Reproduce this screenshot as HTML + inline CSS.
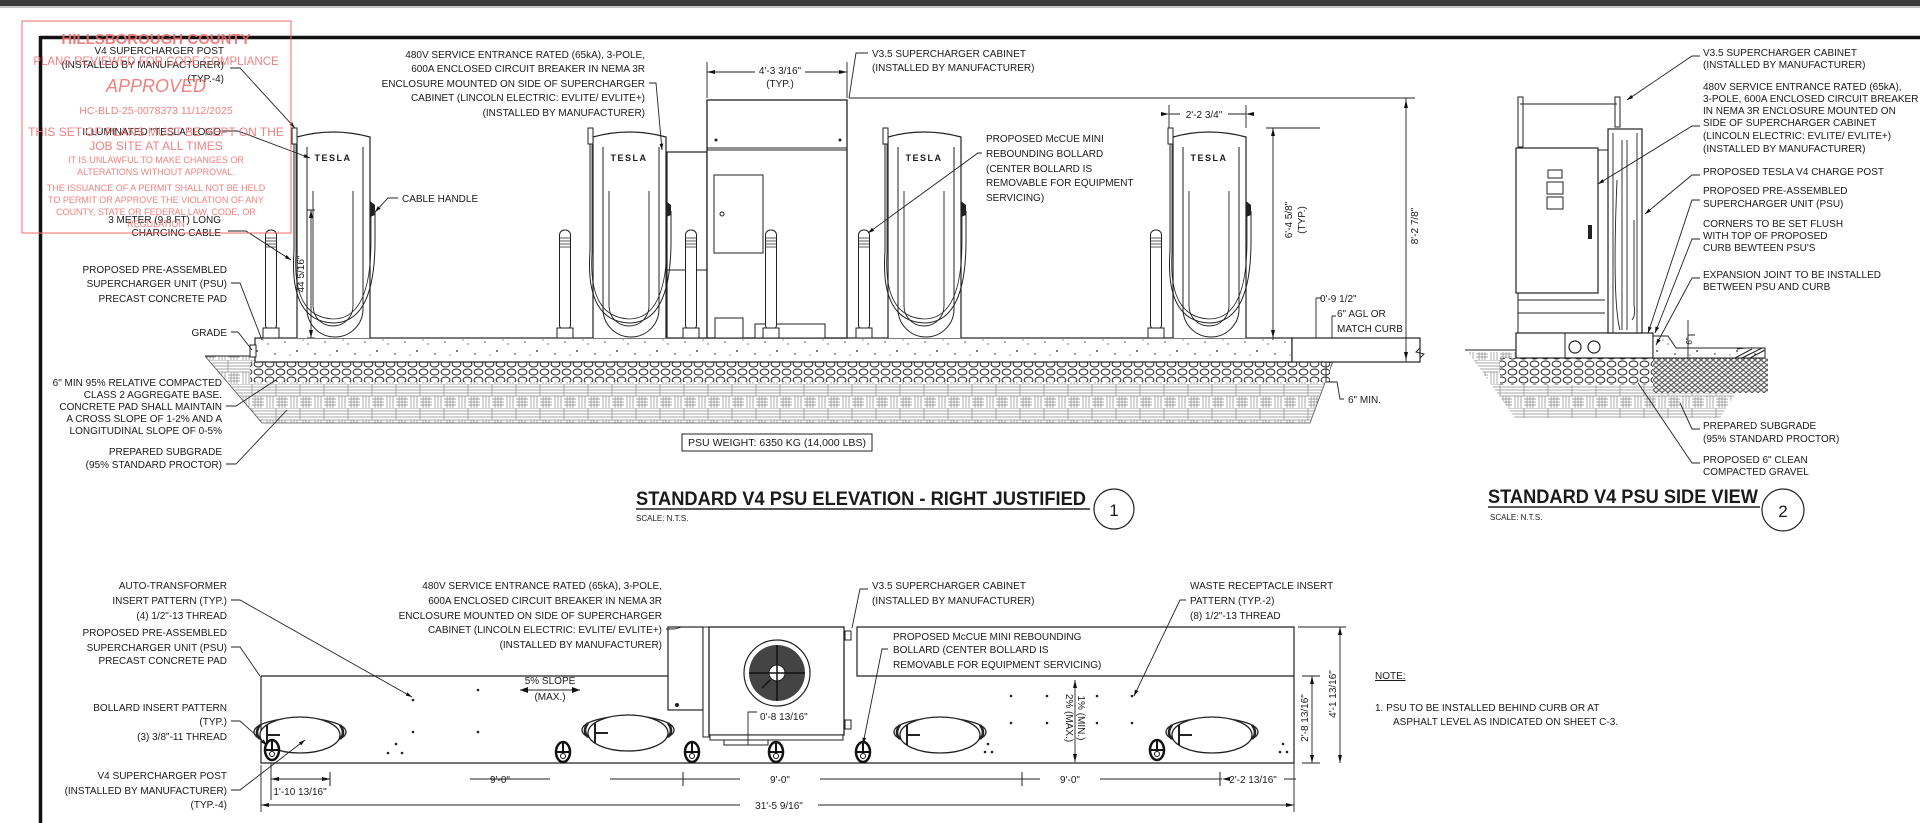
<!DOCTYPE html>
<html><head><meta charset="utf-8"><style>
html,body{margin:0;padding:0;background:#fff;width:1920px;height:823px;overflow:hidden}
svg{display:block}
text{font-family:"Liberation Sans",sans-serif;fill:#1a1a1a}
.t{font-size:10px}
.st{font-size:10px}
.r{text-anchor:end}
.m{text-anchor:middle}
.ttl{font-size:19px;font-weight:bold}
.red{fill:#ef6b6b;text-anchor:middle}
</style></head><body>
<svg width="1920" height="823" viewBox="0 0 1920 823" xmlns="http://www.w3.org/2000/svg">
<defs>
<pattern id="bw" width="24" height="24" patternUnits="userSpaceOnUse">
<rect width="24" height="24" fill="#fff"/>
<g stroke="#8a8a8a" stroke-width="0.7" fill="none">
<path d="M0,3H12M0,6H12M0,9H12M15,12V24M18,12V24M21,12V24M3,12V24M6,12V24M9,12V24M12,3H24M12,6H24M12,9H24M0,12H24M0,0H24M12,0V12"/>
<path d="M12,15H24M12,18H24M12,21H24"/>
</g></pattern>
<pattern id="gv" width="11" height="8" patternUnits="userSpaceOnUse">
<rect width="11" height="8" fill="#fff"/>
<ellipse cx="5.5" cy="4" rx="4.4" ry="3" fill="none" stroke="#222" stroke-width="1"/>
</pattern>
<pattern id="gv2" width="6" height="5" patternUnits="userSpaceOnUse">
<rect width="6" height="5" fill="#fff"/>
<ellipse cx="3" cy="2.5" rx="2.4" ry="1.8" fill="none" stroke="#222" stroke-width="0.9"/>
</pattern>
<pattern id="sp" width="40" height="24" patternUnits="userSpaceOnUse">
<rect width="40" height="24" fill="#fff"/>
<g fill="#555"><circle cx="5" cy="6" r="0.8"/><circle cx="17" cy="15" r="1"/><circle cx="28" cy="8" r="0.7"/><circle cx="35" cy="18" r="0.9"/><circle cx="10" cy="19" r="0.6"/><circle cx="23" cy="4" r="0.6"/></g>
</pattern>
<marker id="ar" viewBox="0 0 10 10" refX="10" refY="5" markerWidth="7" markerHeight="7" orient="auto-start-reverse"><path d="M0,2L10,5L0,8z" fill="#111"/></marker>
<g id="post">
<path d="M0,207V6Q36,-4 73,6V207" fill="#fff" stroke="#222" stroke-width="1.2"/>
<path d="M10,16V178A26,26 0 0 0 66,178V16" fill="none" stroke="#222" stroke-width="1"/>
<path d="M16,60V175A20,20 0 0 0 56,175V60" fill="none" stroke="#222" stroke-width="0.9"/>
<text x="36" y="30" class="m" style="font-size:9px;font-weight:bold;letter-spacing:1.5px">TESLA</text>
<rect x="-5" y="-3" width="5" height="16" fill="#fff" stroke="#222"/>
<path d="M-3,13V120Q-8,190 36,192Q78,192 78,110V80" fill="none" stroke="#222" stroke-width="1"/>
<path d="M-1,13V122Q-5,186 36,188Q74,188 74,110V80" fill="none" stroke="#222" stroke-width="0.8"/>
<path d="M73,70l5,4v10l-5,2z" fill="#222"/>
</g>
<g id="bol">
<rect x="-5.5" y="0" width="11" height="100" rx="5" fill="#fff" stroke="#222"/>
<path d="M-5,8H5M-5,11H5M-5,14H5M-5,17H5" stroke="#222" stroke-width="0.8"/>
<rect x="-8" y="98" width="16" height="10" fill="#fff" stroke="#222"/>
</g>
<g id="oval">
<path d="M-40,-10Q-46,-2 -40,4M40,-10Q46,-2 40,4" fill="none" stroke="#222" stroke-width="2.5"/>
<ellipse cx="0" cy="-3" rx="46" ry="14" fill="none" stroke="#222" stroke-width="1.3"/>
<ellipse cx="0" cy="0" rx="40" ry="18" fill="#fff" stroke="#222" stroke-width="1.3"/>
<path d="M-33,-10V10M-33,0H-20" stroke="#222" stroke-width="2"/>
</g>
<g id="pb">
<ellipse cx="0" cy="0" rx="7" ry="10" fill="#fff" stroke="#111" stroke-width="2.5"/>
<path d="M-6,0H6M0,0V-9" stroke="#111" stroke-width="2"/>
<circle cx="0" cy="4" r="2.5" fill="#fff" stroke="#111"/>
</g>
</defs>

<rect x="0" y="0" width="1920" height="6" fill="#3d3d3d"/>
<rect x="0" y="6" width="1920" height="2" fill="#c8c8c8"/>
<path d="M40,37.5H1920M40.5,36V823" stroke="#111" stroke-width="3.5"/>

<polygon points="205,356 1335,356 1310,423 262,423" fill="url(#bw)"/>
<path d="M205,356L262,423H1310L1335,356" fill="none" stroke="#555" stroke-width="0.8"/>
<path d="M205,356H255" stroke="#222"/>
<rect x="250" y="362" width="1080" height="20" fill="url(#gv)"/>
<rect x="255" y="338" width="1037" height="24" fill="url(#sp)" stroke="#222" stroke-width="1.2"/>
<rect x="250" y="345" width="6" height="12" fill="#fff" stroke="#222"/>
<rect x="1292" y="338" width="128" height="24" fill="#fff" stroke="#222" stroke-width="1.2"/>
<path d="M1420,348l-4,4l8,2l-4,4" fill="none" stroke="#222"/>

<rect x="667" y="152" width="40" height="186" fill="#fff" stroke="#222" stroke-width="1.2"/>
<rect x="707" y="100" width="140" height="238" fill="#fff" stroke="#222" stroke-width="1.3"/>
<path d="M707,148H847M707,150H847" stroke="#222"/>
<circle cx="716" cy="140" r="1.5" fill="#222"/><circle cx="840" cy="140" r="1.5" fill="#222"/>
<rect x="714" y="175" width="49" height="78" fill="#fff" stroke="#222"/>
<circle cx="722" cy="214" r="2" fill="none" stroke="#222"/>
<rect x="715" y="318" width="28" height="20" fill="#fff" stroke="#222"/>
<rect x="755" y="324" width="70" height="14" fill="#fff" stroke="#222"/>
<path d="M667,270H707" stroke="#222"/>

<use href="#post" x="297" y="131"/>
<use href="#post" x="593" y="131"/>
<use href="#post" x="888" y="131"/>
<use href="#post" x="1173" y="131"/>
<use href="#bol" x="271" y="230"/>
<use href="#bol" x="565" y="230"/>
<use href="#bol" x="691" y="230"/>
<use href="#bol" x="771" y="230"/>
<use href="#bol" x="864" y="230"/>
<use href="#bol" x="1156" y="230"/>

<g stroke="#222" stroke-width="0.9" fill="none">
<path d="M230,68H240L295,128" marker-end="url(#ar)"/>
<path d="M222,131H238L310,158" marker-end="url(#ar)"/>
<path d="M228,231H246L291,260" marker-end="url(#ar)"/>
<path d="M398,198H388L375,212" marker-end="url(#ar)"/>
<path d="M231,283H240L262,340"/>
<path d="M231,332H238L252,350"/>
<path d="M226,406H236L276,380"/>
<path d="M226,464H236L287,410"/>
<path d="M649,83H656L662,150" marker-end="url(#ar)"/>
<path d="M868,53H856L849,98"/>
<path d="M982,153H978L868,233" marker-end="url(#ar)"/>
<path d="M311,210V338M307,210H315M307,338H315"/>
<path d="M707,72H755M805,72H847M707,62V98M847,62V98" />
<path d="M1169,114H1180M1228,114H1246M1169,105V128M1246,105V128"/>
<path d="M1273,128V340M1266,128H1320"/>
<path d="M849,98H1415M1406,98V362M1420,362H1398"/>
<path d="M1316,298V338M1316,298H1322M1332,316V338M1332,316H1336"/>
<path d="M1326,362V382M1326,382H1337L1340,399H1344"/>
</g>
<g fill="#111">
<path d="M707,72l8,-2v4z M847,72l-8,-2v4z M1169,114l-8,-2v4z M1246,114l8,-2v4z M311,210l-2,8h4z M311,338l-2,-8h4z M1273,128l-2,8h4z M1273,338l-2,-8h4z M1406,100l-2,8h4z M1406,360l-2,-8h4z"/>
</g>

<g class="st">
<text x="224" y="54" class="r">V4 SUPERCHARGER POST</text>
<text x="224" y="68" class="r">(INSTALLED BY MANUFACTURER)</text>
<text x="224" y="82" class="r">(TYP.-4)</text>
<text x="221" y="135" class="r">ILLUMINATED "TESLA" LOGO</text>
<text x="221" y="223" class="r">3 METER (9.8 FT) LONG</text>
<text x="221" y="236" class="r">CHARGING CABLE</text>
<text x="402" y="202">CABLE HANDLE</text>
<text x="227" y="273" class="r">PROPOSED PRE-ASSEMBLED</text>
<text x="227" y="287" class="r">SUPERCHARGER UNIT (PSU)</text>
<text x="227" y="302" class="r">PRECAST CONCRETE PAD</text>
<text x="227" y="336" class="r">GRADE</text>
<text x="222" y="386" class="r">6" MIN 95% RELATIVE COMPACTED</text>
<text x="222" y="398" class="r">CLASS 2 AGGREGATE BASE.</text>
<text x="222" y="410" class="r">CONCRETE PAD SHALL MAINTAIN</text>
<text x="222" y="422" class="r">A CROSS SLOPE OF 1-2% AND A</text>
<text x="222" y="434" class="r">LONGITUDINAL SLOPE OF 0-5%</text>
<text x="222" y="455" class="r">PREPARED SUBGRADE</text>
<text x="222" y="468" class="r">(95% STANDARD PROCTOR)</text>
<text x="645" y="58" class="r">480V SERVICE ENTRANCE RATED (65kA), 3-POLE,</text>
<text x="645" y="72" class="r">600A ENCLOSED CIRCUIT BREAKER IN NEMA 3R</text>
<text x="645" y="87" class="r">ENCLOSURE MOUNTED ON SIDE OF SUPERCHARGER</text>
<text x="645" y="101" class="r">CABINET (LINCOLN ELECTRIC: EVLITE/ EVLITE+)</text>
<text x="645" y="116" class="r">(INSTALLED BY MANUFACTURER)</text>
<text x="872" y="57">V3.5 SUPERCHARGER CABINET</text>
<text x="872" y="71">(INSTALLED BY MANUFACTURER)</text>
<text x="780" y="74" class="m">4'-3 3/16"</text>
<text x="780" y="87" class="m">(TYP.)</text>
<text x="986" y="142">PROPOSED McCUE MINI</text>
<text x="986" y="157">REBOUNDING BOLLARD</text>
<text x="986" y="172">(CENTER BOLLARD IS</text>
<text x="986" y="186">REMOVABLE FOR EQUIPMENT</text>
<text x="986" y="201">SERVICING)</text>
<text x="1204" y="118" class="m">2'-2 3/4"</text>
<text x="1320" y="302">0'-9 1/2"</text>
<text x="1337" y="317">6" AGL OR</text>
<text x="1337" y="332">MATCH CURB</text>
<text x="1348" y="403">6" MIN.</text>
<text transform="translate(304,274) rotate(-90)" class="m">44 5/16"</text>
<text transform="translate(1292,220) rotate(-90)" class="m">6'-4 5/8"</text>
<text transform="translate(1305,220) rotate(-90)" class="m">(TYP.)</text>
<text transform="translate(1418,226) rotate(-90)" class="m">8'-2 7/8"</text>
</g>
<rect x="682" y="434" width="190" height="17" fill="#fff" stroke="#222"/>
<text x="777" y="446" class="t m" textLength="178" lengthAdjust="spacingAndGlyphs">PSU WEIGHT: 6350 KG (14,000 LBS)</text>

<text x="636" y="505" class="ttl" textLength="450" lengthAdjust="spacingAndGlyphs">STANDARD V4 PSU ELEVATION - RIGHT JUSTIFIED</text>
<path d="M636,509H1090" stroke="#222" stroke-width="1.5"/>
<text x="636" y="521" style="font-size:8px">SCALE:  N.T.S.</text>
<circle cx="1114" cy="509" r="20" fill="#fff" stroke="#222" stroke-width="1.2"/>
<text x="1114" y="516" class="m" style="font-size:17px">1</text>

<polygon points="1468,352 1762,352 1720,418 1515,418" fill="url(#bw)"/>
<path d="M1465,350H1516" stroke="#222"/>
<rect x="1500" y="358" width="153" height="27" fill="url(#gv)"/>
<rect x="1653" y="358" width="115" height="35" fill="url(#gv2)"/>
<rect x="1516" y="333" width="137" height="25" fill="#fff" stroke="#222" stroke-width="1.2"/>
<path d="M1565,333V358" stroke="#222"/>
<circle cx="1575" cy="347" r="6" fill="none" stroke="#222" stroke-width="1.2"/>
<circle cx="1594" cy="347" r="6" fill="none" stroke="#222" stroke-width="1.2"/>
<path d="M1653,358V336L1668,336L1676,348H1765V358Z" fill="url(#sp)" stroke="#222"/>
<path d="M1737,349l8,-1M1742,358l20,-10M1750,358l15,-8M1735,358l17,-9" stroke="#222"/>
<rect x="1518" y="97" width="5" height="50" fill="#fff" stroke="#222"/>
<rect x="1615" y="97" width="5" height="30" fill="#fff" stroke="#222"/>
<path d="M1520,104H1617M1516,150H1615" stroke="#222"/>
<rect x="1516" y="148" width="82" height="145" fill="#fff" stroke="#222" stroke-width="1.2"/>
<rect x="1548" y="170" width="14" height="8" fill="none" stroke="#222"/>
<rect x="1547" y="182" width="16" height="12" fill="none" stroke="#222"/>
<rect x="1547" y="197" width="16" height="12" fill="none" stroke="#222"/>
<rect x="1588" y="225" width="4" height="14" fill="#222"/>
<path d="M1518,293V333M1518,300H1605M1518,313H1605" stroke="#222" fill="none"/>
<rect x="1608" y="129" width="34" height="204" fill="#fff" stroke="#222" stroke-width="1.2"/>
<path d="M1613,133V333M1637,133V333M1622,140V330M1627,140V330M1617,180Q1612,300 1620,330M1634,220V305Q1636,315 1632,320" stroke="#222" fill="none" stroke-width="0.9"/>
<g stroke="#222" stroke-width="0.9" fill="none">
<path d="M1700,56H1692L1627,100" marker-end="url(#ar)"/>
<path d="M1700,126H1692L1598,184" marker-end="url(#ar)"/>
<path d="M1700,175H1692L1645,214" marker-end="url(#ar)"/>
<path d="M1700,200H1692L1648,333" marker-end="url(#ar)"/>
<path d="M1700,239H1692L1655,333" marker-end="url(#ar)"/>
<path d="M1700,278H1692L1656,345" marker-end="url(#ar)"/>
<path d="M1700,429H1692L1680,403"/>
<path d="M1700,463H1692L1638,383"/>
<path d="M1688,335H1695M1688,348V320M1688,348V358"/>
</g>
<text transform="translate(1692,341) rotate(-90)" class="m" style="font-size:8px">6"</text>
<g class="st">
<text x="1703" y="56">V3.5 SUPERCHARGER CABINET</text>
<text x="1703" y="68">(INSTALLED BY MANUFACTURER)</text>
<text x="1703" y="90">480V SERVICE ENTRANCE RATED (65kA),</text>
<text x="1703" y="102">3-POLE, 600A ENCLOSED CIRCUIT BREAKER</text>
<text x="1703" y="114">IN NEMA 3R ENCLOSURE MOUNTED ON</text>
<text x="1703" y="126">SIDE OF SUPERCHARGER CABINET</text>
<text x="1703" y="139">(LINCOLN ELECTRIC: EVLITE/ EVLITE+)</text>
<text x="1703" y="152">(INSTALLED BY MANUFACTURER)</text>
<text x="1703" y="175">PROPOSED TESLA V4 CHARGE POST</text>
<text x="1703" y="194">PROPOSED PRE-ASSEMBLED</text>
<text x="1703" y="207">SUPERCHARGER UNIT (PSU)</text>
<text x="1703" y="227">CORNERS TO BE SET FLUSH</text>
<text x="1703" y="239">WITH TOP OF PROPOSED</text>
<text x="1703" y="251">CURB BEWTEEN PSU'S</text>
<text x="1703" y="278">EXPANSION JOINT TO BE INSTALLED</text>
<text x="1703" y="290">BETWEEN PSU AND CURB</text>
<text x="1703" y="429">PREPARED SUBGRADE</text>
<text x="1703" y="442">(95% STANDARD PROCTOR)</text>
<text x="1703" y="463">PROPOSED 6" CLEAN</text>
<text x="1703" y="475">COMPACTED GRAVEL</text>
</g>
<text x="1488" y="503" class="ttl" textLength="270" lengthAdjust="spacingAndGlyphs">STANDARD V4 PSU SIDE VIEW</text>
<path d="M1488,507H1760" stroke="#222" stroke-width="1.5"/>
<text x="1490" y="520" style="font-size:8px">SCALE:  N.T.S.</text>
<circle cx="1783" cy="510" r="21" fill="#fff" stroke="#222" stroke-width="1.2"/>
<text x="1783" y="517" class="m" style="font-size:17px">2</text>

<g stroke="#222" stroke-width="1.2" fill="none">
<path d="M261,676H668M261,676V763H1294V627H857V676H1294"/>
</g>
<rect x="668" y="627" width="35" height="83" fill="#fff" stroke="#222" stroke-width="1.2"/>
<circle cx="677" cy="705" r="2" fill="#222"/>
<rect x="703" y="627" width="6" height="110" fill="#fff" stroke="#222"/>
<rect x="709" y="627" width="135" height="108" fill="#fff" stroke="#222" stroke-width="1.3"/>
<rect x="710" y="735" width="133" height="5" fill="#fff" stroke="#222"/>
<rect x="724" y="740" width="44" height="5" fill="#fff" stroke="#222"/>
<rect x="845" y="631" width="6" height="9" fill="#fff" stroke="#222"/>
<rect x="845" y="720" width="6" height="9" fill="#fff" stroke="#222"/>
<circle cx="777" cy="673" r="33" fill="#fff" stroke="#222" stroke-width="1.2"/>
<circle cx="777" cy="673" r="28" fill="#444"/>
<circle cx="777" cy="673" r="8" fill="#fff" stroke="#222"/>
<path d="M749,673H805M777,645V701M770,680L762,688" stroke="#111" stroke-width="1.5"/>

<use href="#oval" x="300" y="735"/>
<use href="#oval" x="628" y="733"/>
<use href="#oval" x="940" y="735"/>
<use href="#oval" x="1212" y="735"/>
<use href="#pb" x="272" y="750"/>
<use href="#pb" x="563" y="752"/>
<use href="#pb" x="692" y="752"/>
<use href="#pb" x="776" y="752"/>
<use href="#pb" x="863" y="752"/>
<use href="#pb" x="1157" y="750"/>
<g fill="#222">
<circle cx="413" cy="700" r="1.3"/><circle cx="478" cy="690" r="1.3"/><circle cx="413" cy="732" r="1.3"/><circle cx="478" cy="732" r="1.3"/><circle cx="396" cy="744" r="1.3"/><circle cx="388" cy="753" r="1.3"/><circle cx="402" cy="753" r="1.3"/>
<circle cx="1011" cy="696" r="1.3"/><circle cx="1047" cy="696" r="1.3"/><circle cx="1097" cy="696" r="1.3"/><circle cx="1132" cy="696" r="1.3"/><circle cx="1011" cy="723" r="1.3"/><circle cx="1047" cy="723" r="1.3"/><circle cx="1097" cy="723" r="1.3"/><circle cx="1132" cy="723" r="1.3"/>
<circle cx="988" cy="744" r="1.3"/><circle cx="985" cy="752" r="1.3"/><circle cx="992" cy="752" r="1.3"/><circle cx="1283" cy="744" r="1.3"/><circle cx="1280" cy="752" r="1.3"/><circle cx="1287" cy="752" r="1.3"/>
</g>
<g stroke="#222" stroke-width="0.9" fill="none">
<path d="M231,600H240L412,697" marker-end="url(#ar)"/>
<path d="M231,647H240L260,676"/>
<path d="M231,721H240L267,745" marker-end="url(#ar)"/>
<path d="M231,790H240L305,740" marker-end="url(#ar)"/>
<path d="M666,629H674L682,627"/>
<path d="M868,589H860L852,628"/>
<path d="M888,649H882L863,744" marker-end="url(#ar)"/>
<path d="M1186,600H1180L1134,696" marker-end="url(#ar)"/>
<path d="M757,712H748V745"/>
<path d="M271,763V800M271,779H330M470,779H550M610,779H740M820,779H1040M1100,779H1222M1284,779H1296M1294,763V812"/>
<path d="M261,805H740M818,805H1294M261,765V812"/>
<path d="M1312,676V763M1302,676H1320M1302,763H1320M1340,627V763M1298,627H1346"/>
<path d="M520,690H580"/>
<path d="M1075,680V762"/>
</g>
<g fill="#111">
<path d="M520,690l8,-3v6z M580,690l-8,-3v6z M271,779l8,-2v4z M261,805l8,-2v4z M1294,805l-8,-2v4z M1312,676l-2,8h4z M1312,763l-2,-8h4z M1340,627l-2,8h4z M1340,763l-2,-8h4z M1075,680l-2,8h4z M1075,762l-2,-8h4z M330,779l-8,-2v4z M1222,779l8,-2v4z"/>
</g>
<path d="M330,772V786M683,772V786M1022,772V786M1220,772V786" stroke="#222"/>

<g class="st">
<text x="227" y="589" class="r">AUTO-TRANSFORMER</text>
<text x="227" y="604" class="r">INSERT PATTERN (TYP.)</text>
<text x="227" y="619" class="r">(4) 1/2"-13 THREAD</text>
<text x="227" y="636" class="r">PROPOSED PRE-ASSEMBLED</text>
<text x="227" y="651" class="r">SUPERCHARGER UNIT (PSU)</text>
<text x="227" y="664" class="r">PRECAST CONCRETE PAD</text>
<text x="227" y="711" class="r">BOLLARD INSERT PATTERN</text>
<text x="227" y="725" class="r">(TYP.)</text>
<text x="227" y="740" class="r">(3) 3/8"-11 THREAD</text>
<text x="227" y="779" class="r">V4 SUPERCHARGER POST</text>
<text x="227" y="794" class="r">(INSTALLED BY MANUFACTURER)</text>
<text x="227" y="808" class="r">(TYP.-4)</text>
<text x="662" y="589" class="r">480V SERVICE ENTRANCE RATED (65kA), 3-POLE,</text>
<text x="662" y="604" class="r">600A ENCLOSED CIRCUIT BREAKER IN NEMA 3R</text>
<text x="662" y="619" class="r">ENCLOSURE MOUNTED ON SIDE OF SUPERCHARGER</text>
<text x="662" y="633" class="r">CABINET (LINCOLN ELECTRIC: EVLITE/ EVLITE+)</text>
<text x="662" y="648" class="r">(INSTALLED BY MANUFACTURER)</text>
<text x="872" y="589">V3.5 SUPERCHARGER CABINET</text>
<text x="872" y="604">(INSTALLED BY MANUFACTURER)</text>
<text x="893" y="640">PROPOSED McCUE MINI REBOUNDING</text>
<text x="893" y="653">BOLLARD (CENTER BOLLARD IS</text>
<text x="893" y="668">REMOVABLE FOR EQUIPMENT SERVICING)</text>
<text x="1190" y="589">WASTE RECEPTACLE INSERT</text>
<text x="1190" y="604">PATTERN (TYP.-2)</text>
<text x="1190" y="619">(8) 1/2"-13 THREAD</text>
<text x="550" y="684" class="m">5% SLOPE</text>
<text x="550" y="700" class="m">(MAX.)</text>
<text x="760" y="720">0'-8 13/16"</text>
<text x="300" y="795" class="m">1'-10 13/16"</text>
<text x="500" y="783" class="m">9'-0"</text>
<text x="780" y="783" class="m">9'-0"</text>
<text x="1070" y="783" class="m">9'-0"</text>
<text x="1253" y="783" class="m">2'-2 13/16"</text>
<text x="779" y="809" class="m">31'-5 9/16"</text>
<text transform="translate(1078,718) rotate(90)" class="m">1% (MIN.)</text>
<text transform="translate(1066,718) rotate(90)" class="m">2% (MAX.)</text>
<text transform="translate(1308,718) rotate(-90)" class="m">2'-8 13/16"</text>
<text transform="translate(1336,694) rotate(-90)" class="m">4'-1 13/16"</text>
<text x="1375" y="679" style="font-size:10px;text-decoration:underline">NOTE:</text>
<text x="1375" y="711">1.  PSU TO BE INSTALLED BEHIND CURB OR AT</text>
<text x="1393" y="725">ASPHALT LEVEL AS INDICATED ON SHEET C-3.</text>
</g>

<rect x="22" y="21" width="269" height="212" fill="none" stroke="#ef6b6b" stroke-width="1"/>
<g opacity="0.85">
<text x="156" y="44" class="red" style="font-size:15px;font-weight:bold">HILLSBOROUGH COUNTY</text>
<text x="156" y="65" class="red" style="font-size:11.5px">PLANS REVIEWED FOR CODE COMPLIANCE</text>
<text x="156" y="92" class="red" style="font-size:18px;font-style:italic">APPROVED</text>
<text x="156" y="114" class="red" style="font-size:10.5px">HC-BLD-25-0078373   11/12/2025</text>
<text x="156" y="136" class="red" style="font-size:12px">THIS SET OF PLANS MUST BE KEPT ON THE</text>
<text x="156" y="150" class="red" style="font-size:12px">JOB SITE AT ALL TIMES</text>
<text x="156" y="163" class="red" style="font-size:9px">IT IS UNLAWFUL TO MAKE CHANGES OR</text>
<text x="156" y="175" class="red" style="font-size:9px">ALTERATIONS WITHOUT APPROVAL.</text>
<text x="156" y="191" class="red" style="font-size:9px">THE ISSUANCE OF A PERMIT SHALL NOT BE HELD</text>
<text x="156" y="203" class="red" style="font-size:9px">TO PERMIT OR APPROVE THE VIOLATION OF ANY</text>
<text x="156" y="215" class="red" style="font-size:9px">COUNTY, STATE OR FEDERAL LAW, CODE, OR</text>
<text x="156" y="227" class="red" style="font-size:9px">REGULATION</text>
</g>
</svg>
</body></html>
